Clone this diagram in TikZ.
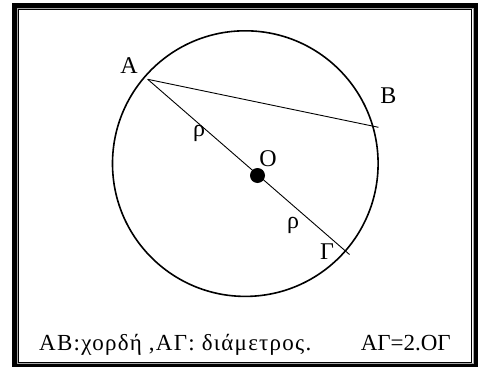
\documentclass[tikz,border=0pt]{standalone}
\usepackage{fontspec}
\setmainfont{Liberation Serif}
\newfontfamily\widegreek[LetterSpace=5.5]{Liberation Serif}
\tikzset{
  lbl/.style={font=\fontsize{24}{24}\selectfont, inner sep=0pt},
  txt/.style={font=\fontsize{23}{23}\selectfont, inner sep=0pt},
  thinline/.style={line width=0.9pt},
}
\begin{document}
\begin{tikzpicture}[x=1pt,y=-1pt]
\useasboundingbox (0,0) rectangle (483,367);
\fill[white] (0,0) rectangle (483,367);
% frame
\draw[line width=4.5pt] (14.7,5.5) rectangle (476,366);
\draw[line width=1pt, gray!70] (17.4,8.5) rectangle (473.2,363.6);
\draw[line width=1pt] (18.8,9.8) rectangle (471.8,362.3);
% circle
\draw[line width=1.6pt] (245.3,163.6) circle (132.8);
% points
\coordinate (A) at (147.7,79.3);
\coordinate (B) at (378.5,127.3);
\coordinate (G) at (349.5,254.5);
\node[circle, fill=black, minimum size=15pt, inner sep=0pt] (O) at (257.5,175.5) {};
\draw[thinline] (A) -- (B);
\draw[thinline] (A) -- (G);
% labels
\node[lbl] (lA) at (129,65.5) {Α};
\node[lbl] (lB) at (388.5,96) {Β};
\node[lbl] (lO) at (268,158.5) {Ο};
\node[lbl] (r1) at (199,133) {ρ};
\node[lbl] (r2) at (293,225) {ρ};
\node[lbl] (lG) at (327,251.5) {Γ};
\node[txt, anchor=base west] (t1) at (39,350) {\widegreek ΑΒ:χορδή ,ΑΓ: διάμετρος.};
\node[txt, anchor=base east] (t2) at (451,350) {ΑΓ=2.ΟΓ};
\end{tikzpicture}
\end{document}
